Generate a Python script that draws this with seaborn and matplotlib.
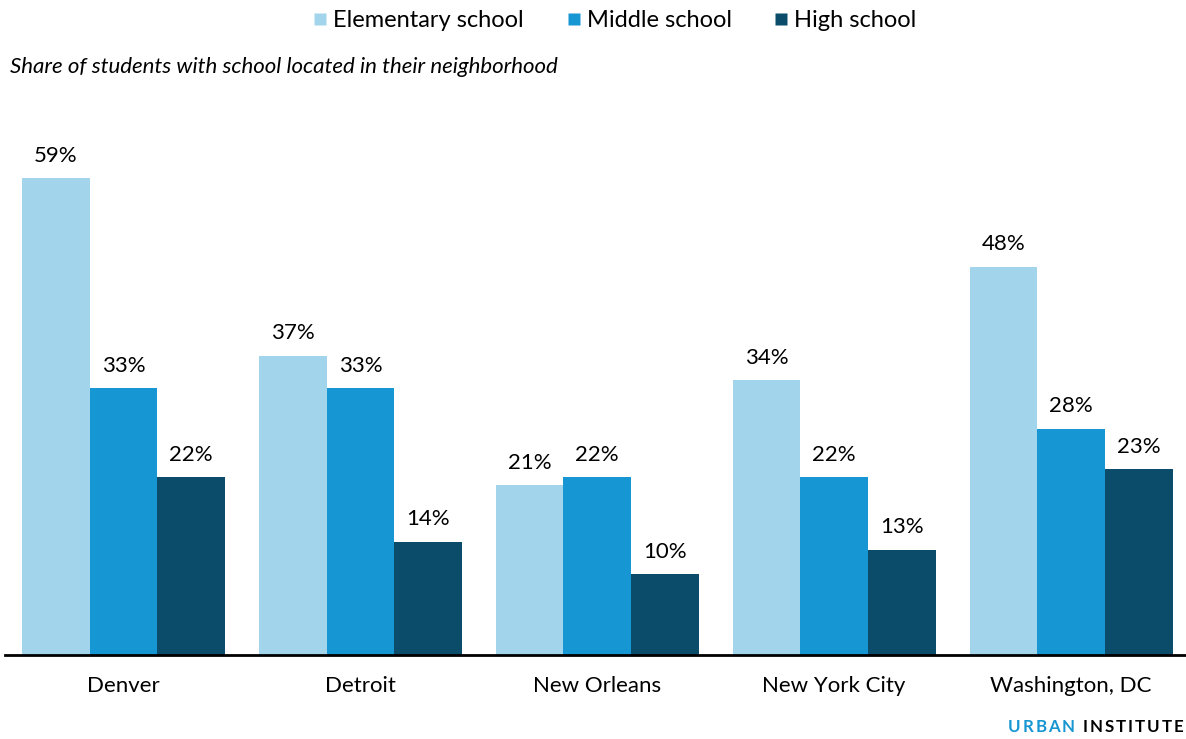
import matplotlib
matplotlib.use("Agg")
import matplotlib.pyplot as plt
import seaborn as sns
import pandas as pd
from matplotlib.lines import Line2D

cities = ["Denver", "Detroit", "New Orleans", "New York City", "Washington, DC"]
levels = ["Elementary school", "Middle school", "High school"]
elementary = [59, 37, 21, 34, 48]
middle = [33, 33, 22, 22, 28]
high = [22, 14, 10, 13, 23]
colors = ["#a2d4ec", "#1696d2", "#0a4c6a"]

rows = []
for lvl, vals in zip(levels, [elementary, middle, high]):
    for c, v in zip(cities, vals):
        rows.append({"city": c, "level": lvl, "value": v})
df = pd.DataFrame(rows)

sns.set_theme(style="white")
plt.rcParams["font.family"] = ["Lato", "DejaVu Sans"]
plt.rcParams["text.color"] = "#000000"

W, H = 1186, 739
fig = plt.figure(figsize=(W / 100, H / 100), dpi=100)
ax = fig.add_axes([5 / W, (H - 655) / H, (1189.5 - 5) / W, 525.5 / H])

sns.barplot(data=df, x="city", y="value", hue="level", order=cities,
            hue_order=levels, palette=colors, width=0.857, saturation=1,
            ax=ax, legend=False, edgecolor="none", linewidth=0)

for cont in ax.containers:
    ax.bar_label(cont, labels=[f"{int(v)}%" for v in cont.datavalues],
                 padding=9, fontsize=16, color="#000000")

ax.set_ylim(0, 65)
ax.set_xlim(-0.5, 4.5)
ax.set_xlabel("")
ax.set_ylabel("")
ax.set_yticks([])
for s in ["top", "right", "left"]:
    ax.spines[s].set_visible(False)
ax.spines["bottom"].set_color("#000000")
ax.spines["bottom"].set_linewidth(2)
ax.tick_params(axis="x", length=0, pad=15, labelsize=16, colors="#000000")

handles = [Line2D([0], [0], marker="s", linestyle="none", markersize=8.5,
                  markerfacecolor=c, markeredgecolor="none") for c in colors]
fig.legend(handles, levels, loc="center", bbox_to_anchor=(0.518, 0.972),
           ncol=3, frameon=False, fontsize=17, handletextpad=0.2,
           columnspacing=1.75, handlelength=0.7, labelcolor="#000000")

fig.text(10 / W, 1 - 67 / H, "Share of students with school located in their neighborhood",
         fontsize=16, style="italic", va="center", ha="left", color="#000000")

# Letter-spaced branding
renderer = fig.canvas.get_renderer()
x = 1008.0
for word, col in [("URBAN", "#1696d2"), ("INSTITUTE", "#000000")]:
    for ch in word:
        t = fig.text(x / W, 1 - 727 / H, ch, fontsize=12.2, fontweight="bold",
                     color=col, va="center", ha="left")
        w = t.get_window_extent(renderer=renderer).width
        x += w + 1.9
    x += 6

fig.savefig("out.png", dpi=100, facecolor="white")
